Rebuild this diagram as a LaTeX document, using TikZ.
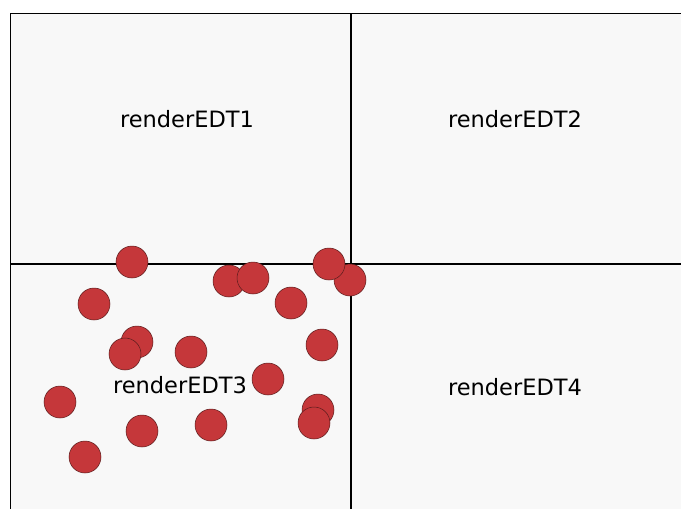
\documentclass[tikz,border=0pt]{standalone}
\usepackage{fontspec}
\setmainfont{DejaVu Sans}
\definecolor{boxfill}{HTML}{F8F8F8}
\definecolor{dotfill}{HTML}{C5373A}
\definecolor{dotline}{HTML}{5A1C1C}
\tikzset{
  region/.style={draw=black, line width=1pt, fill=boxfill},
  lbl/.style={font=\fontsize{22.5}{26}\selectfont, text=black, inner sep=0pt, anchor=base},
  dot/.style={circle, draw=dotline, line width=0.5pt, fill=dotfill, minimum size=32pt, inner sep=0pt}
}
\begin{document}
\begin{tikzpicture}[x=1pt,y=-1pt]
\useasboundingbox (0,0) rectangle (681,509);
\fill[white] (0,0) rectangle (681,509);
\clip (0,0) rectangle (681,509);
\draw[region] (10,13) rectangle (350,263);
\draw[region] (351.3,13) rectangle (700,263);
\draw[region] (10,264) rectangle (350,530);
\draw[region] (351,264) rectangle (700,530);
\node[lbl] (t1) at (187,127) {renderEDT1};
\node[lbl] (t2) at (515,127) {renderEDT2};
\node[lbl] (t3) at (180,393) {renderEDT3};
\node[lbl] (t4) at (515,395) {renderEDT4};
\node[dot] (c1) at (132,262) {};
\node[dot] (c2) at (94,304) {};
\node[dot] (c3) at (229,281) {};
\node[dot] (c4) at (253,278) {};
\node[dot] (c5) at (291,303) {};
\node[dot] (c7) at (350,280) {};
\node[dot] (c6) at (329,264) {};
\node[dot] (c8) at (137,342) {};
\node[dot] (c9) at (125,354) {};
\node[dot] (c10) at (191,352) {};
\node[dot] (c11) at (322,345) {};
\node[dot] (c12) at (268,379) {};
\node[dot] (c13) at (60,402) {};
\node[dot] (c14) at (318,410) {};
\node[dot] (c15) at (314,423) {};
\node[dot] (c16) at (142,431) {};
\node[dot] (c17) at (211,425) {};
\node[dot] (c18) at (85,457) {};
\end{tikzpicture}
\end{document}
